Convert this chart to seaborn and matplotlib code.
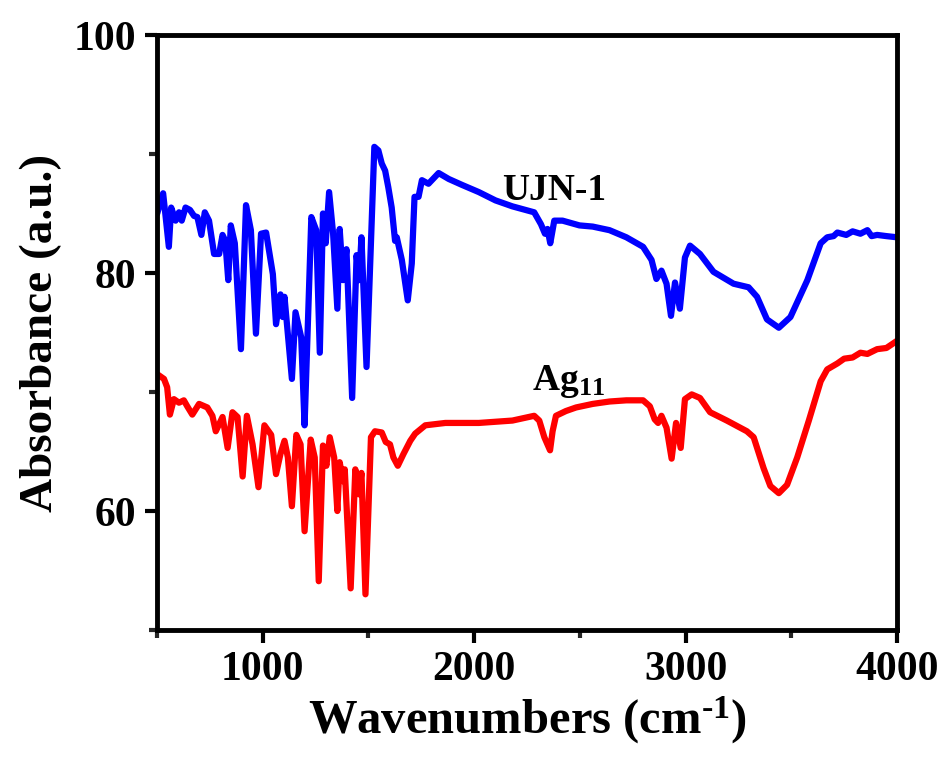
import matplotlib
matplotlib.use("Agg")
import matplotlib.pyplot as plt
from matplotlib.ticker import MultipleLocator
import seaborn as sns
import pandas as pd

# FTIR spectra
ujn_x = [501, 529, 556, 567, 588, 604, 617, 635, 656, 675, 691, 710, 726, 746, 770, 794,
         810, 823, 837, 849, 868, 897, 921, 944, 968, 992, 1016, 1048, 1063, 1084, 1095,
         1103, 1138, 1155, 1182, 1198, 1230, 1253, 1270, 1285, 1298, 1314, 1333, 1353,
         1364, 1380, 1396, 1423, 1444, 1456, 1467, 1491, 1528, 1547, 1563, 1579, 1594,
         1610, 1626, 1634, 1658, 1686, 1705, 1718, 1737, 1753, 1784, 1832, 1880, 1943,
         2022, 2101, 2181, 2284, 2316, 2335, 2347, 2360, 2379, 2418, 2498, 2561, 2640,
         2720, 2799, 2839, 2862, 2886, 2910, 2931, 2950, 2973, 2997, 3021, 3068, 3132,
         3227, 3298, 3338, 3385, 3441, 3496, 3576, 3639, 3670, 3700, 3718, 3760, 3790,
         3827, 3860, 3880, 3906, 3950, 4000]
ujn_y = [85.0, 86.7, 82.2, 85.5, 84.4, 85.1, 84.4, 85.5, 85.3, 84.8, 84.7, 83.2, 85.1, 84.4,
         81.6, 81.6, 83.2, 82.7, 79.4, 84.0, 82.5, 73.6, 85.7, 83.6, 74.9, 83.3, 83.4,
         79.9, 75.7, 78.2, 76.3, 78.0, 71.1, 76.7, 74.6, 67.2, 84.7, 83.6, 73.3, 85.0,
         82.5, 86.8, 83.3, 77.0, 83.7, 79.4, 82.0, 69.5, 81.5, 79.4, 83.0, 72.1, 90.6,
         90.3, 89.2, 88.6, 87.2, 85.5, 82.7, 83.0, 81.1, 77.7, 80.8, 86.4, 86.4, 87.8,
         87.5, 88.4, 87.9, 87.4, 86.8, 86.1, 85.6, 85.1, 84.1, 83.3, 83.7, 82.5, 84.4,
         84.4, 84.0, 83.9, 83.6, 83.0, 82.2, 81.1, 79.5, 80.2, 79.1, 76.4, 79.2, 77.0,
         81.3, 82.3, 81.6, 80.1, 79.1, 78.8, 78.0, 76.1, 75.4, 76.3, 79.4, 82.5, 83.0,
         83.1, 83.4, 83.2, 83.5, 83.3, 83.6, 83.1, 83.2, 83.1, 83.0]

ag_x = [501, 533, 548, 561, 580, 604, 627, 643, 667, 699, 738, 762, 778, 810, 834, 857,
        881, 905, 925, 952, 980, 1008, 1040, 1063, 1084, 1103, 1119, 1138, 1159, 1179,
        1198, 1227, 1246, 1265, 1285, 1301, 1317, 1338, 1353, 1364, 1380, 1388, 1416,
        1438, 1455, 1467, 1486, 1512, 1531, 1563, 1582, 1602, 1618, 1639, 1666, 1698,
        1721, 1769, 1864, 2022, 2181, 2284, 2308, 2332, 2359, 2371, 2387, 2434, 2482,
        2561, 2640, 2720, 2799, 2831, 2854, 2870, 2886, 2910, 2934, 2955, 2977, 2997,
        3029, 3068, 3116, 3195, 3290, 3322, 3369, 3401, 3441, 3480, 3528, 3583, 3639,
        3670, 3718, 3750, 3790, 3827, 3860, 3906, 3950, 4000]
ag_y = [71.5, 71.1, 70.4, 68.1, 69.4, 69.1, 69.3, 68.8, 68.1, 69.0, 68.7, 68.0, 66.7, 67.9,
        65.3, 68.3, 67.9, 62.9, 68.0, 65.6, 62.0, 67.2, 66.4, 63.1, 64.8, 65.9, 64.5,
        60.4, 66.4, 65.6, 58.3, 66.0, 64.5, 54.1, 65.5, 63.8, 66.2, 64.5, 60.0, 64.1,
        62.5, 63.5, 53.5, 63.5, 61.4, 63.2, 53.0, 66.2, 66.7, 66.6, 65.8, 65.6, 64.5,
        63.8, 64.8, 65.9, 66.5, 67.2, 67.4, 67.4, 67.6, 68.0, 67.6, 66.2, 65.1, 66.7,
        68.0, 68.4, 68.7, 69.0, 69.2, 69.3, 69.3, 68.8, 67.7, 67.4, 68.0, 67.0, 64.4,
        67.4, 65.3, 69.4, 69.8, 69.5, 68.3, 67.6, 66.7, 66.2, 63.6, 62.1, 61.5, 62.2,
        64.5, 67.6, 70.9, 71.9, 72.4, 72.8, 72.9, 73.3, 73.2, 73.6, 73.7, 74.3]

sns.set_style("ticks")
plt.rcParams["font.family"] = ["Liberation Serif", "DejaVu Serif"]
plt.rcParams["font.weight"] = "bold"
plt.rcParams["text.color"] = "black"
plt.rcParams["axes.labelcolor"] = "black"
plt.rcParams["mathtext.fontset"] = "custom"
plt.rcParams["mathtext.rm"] = "Liberation Serif"
plt.rcParams["mathtext.bf"] = "Liberation Serif:bold"
plt.rcParams["mathtext.default"] = "regular"

df_ujn = pd.DataFrame({"x": ujn_x, "y": ujn_y})
df_ag = pd.DataFrame({"x": ag_x, "y": ag_y})

fig, ax = plt.subplots(figsize=(9.44, 7.58), dpi=100)
fig.subplots_adjust(left=157/944, right=897/944, top=1-35/758, bottom=1-630/758)

sns.lineplot(data=df_ujn, x="x", y="y", color="#0000ff", lw=4.5, ax=ax, estimator=None)
sns.lineplot(data=df_ag, x="x", y="y", color="#ff0000", lw=4.5, ax=ax, estimator=None)

ax.set_xlim(500, 4000)
ax.set_ylim(50, 100)
ax.xaxis.set_major_locator(MultipleLocator(1000))
ax.xaxis.set_minor_locator(MultipleLocator(500))
ax.yaxis.set_major_locator(MultipleLocator(20))
ax.yaxis.set_minor_locator(MultipleLocator(10))

for s in ax.spines.values():
    s.set_visible(True)
    s.set_linewidth(3.5)
    s.set_color("black")

ax.tick_params(which="major", direction="out", length=9, width=3, labelsize=30,
               pad=6, colors="black", right=False, top=False)
ax.tick_params(which="minor", direction="out", length=6, width=3, right=False, top=False)
for t in ax.get_xticklabels() + ax.get_yticklabels():
    t.set_fontweight("bold")

ax.set_xlabel(r"Wavenumbers (cm$^{\text{-1}}$)", fontsize=35, fontweight="bold", labelpad=4)
ax.set_ylabel("Absorbance (a.u.)", fontsize=34, fontweight="bold", labelpad=8)

ax.text(2130, 86.9, "UJN-1", fontsize=27, fontweight="bold", ha="left", va="center")
ax.text(2275, 70.9, r"Ag$_{\mathrm{11}}$", fontsize=27, fontweight="bold", ha="left", va="center")

fig.savefig("out.png", dpi=100)
